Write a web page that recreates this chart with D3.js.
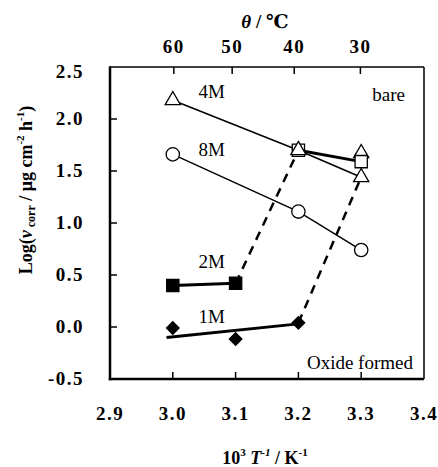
<!DOCTYPE html>
<html>
<head>
<meta charset="utf-8">
<script src="https://cdn.jsdelivr.net/npm/d3@7"></script>
<style>
  body { margin: 0; background: #fff; }
  svg text { font-family: "Liberation Serif", "Times New Roman", Times, "DejaVu Serif", serif; fill: #000; }
  .tick-label { font-weight: bold; font-size: 19px; letter-spacing: 1.5px; }
</style>
</head>
<body>
<div id="chart"></div>
<script>
// 轴刻度
const xTicks = [2.9, 3.0, 3.1, 3.2, 3.3, 3.4];
const yTicks = [-0.5, 0.0, 0.5, 1.0, 1.5, 2.0, 2.5];
const tempTicks = [60, 50, 40, 30];

// 数据
const m4Bare = [[3.0, 2.18], [3.2, 1.70], [3.3, 1.44]];
const m4Extra = [[3.3, 1.67]];
const m2Bare = [[3.2, 1.70], [3.3, 1.59]];
const m8Bare = [[3.0, 1.66], [3.2, 1.11], [3.3, 0.74]];
const m2Oxide = [[3.0, 0.40], [3.1, 0.42]];
const m1Oxide = [[3.0, -0.01], [3.1, -0.115], [3.2, 0.04]];
const m1Fit = [[2.99, -0.10], [3.2, 0.03]];
const dash2M = [[3.1, 0.42], [3.2, 1.70]];
const dash1M = [[3.2, 0.04], [3.3, 1.44]];

const width = 438, height = 467;
const margin = { left: 110, right: 14, top: 67, bottom: 88 };

const svg = d3.select("#chart").append("svg")
    .attr("width", width)
    .attr("height", height);

const x = d3.scaleLinear().domain([2.9, 3.4]).range([margin.left, width - margin.right]);
const y = d3.scaleLinear().domain([-0.5, 2.5]).range([height - margin.bottom, margin.top]);

const x0 = x.range()[0], x1 = x.range()[1];
const y0 = y.range()[0], y1 = y.range()[1];

// 坐标框
svg.append("line").attr("x1", x0).attr("x2", x1).attr("y1", y1).attr("y2", y1)
    .attr("stroke", "#000").attr("stroke-width", 1.5);
svg.append("line").attr("x1", x1).attr("x2", x1).attr("y1", y1).attr("y2", y0)
    .attr("stroke", "#000").attr("stroke-width", 1.5);
svg.append("line").attr("x1", x0).attr("x2", x0).attr("y1", y1 - 0.75).attr("y2", y0 + 1.25)
    .attr("stroke", "#000").attr("stroke-width", 2.5);
svg.append("line").attr("x1", x0 - 1.25).attr("x2", x1).attr("y1", y0).attr("y2", y0)
    .attr("stroke", "#000").attr("stroke-width", 2.5);

// 底部刻度
svg.append("g").selectAll("line")
    .data(xTicks.slice(1, -1))
    .join("line")
    .attr("x1", d => x(d)).attr("x2", d => x(d))
    .attr("y1", y0).attr("y2", y0 - 7)
    .attr("stroke", "#000").attr("stroke-width", 1.5);

svg.append("g").selectAll("text")
    .data(xTicks)
    .join("text")
    .attr("class", "tick-label")
    .attr("x", d => x(d))
    .attr("y", y0 + 41)
    .attr("text-anchor", "middle")
    .text(d => d.toFixed(1));

// 左侧刻度
svg.append("g").selectAll("line")
    .data(yTicks.slice(1, -1))
    .join("line")
    .attr("x1", x0).attr("x2", x0 + 7)
    .attr("y1", d => y(d)).attr("y2", d => y(d))
    .attr("stroke", "#000").attr("stroke-width", 1.5);

svg.append("g").selectAll("text")
    .data(yTicks)
    .join("text")
    .attr("class", "tick-label")
    .attr("x", x0 - 26)
    .attr("y", d => y(d) + 6 + (d === 2.5 ? 5 : 0))
    .attr("text-anchor", "end")
    .text(d => d.toFixed(1));

// 顶部温度刻度
const tx = t => x(1000 / (t + 273.15));
svg.append("g").selectAll("line")
    .data(tempTicks)
    .join("line")
    .attr("x1", d => tx(d)).attr("x2", d => tx(d))
    .attr("y1", y1).attr("y2", y1 + 7)
    .attr("stroke", "#000").attr("stroke-width", 1.5);

svg.append("g").selectAll("text")
    .data(tempTicks)
    .join("text")
    .attr("class", "tick-label")
    .attr("x", d => tx(d))
    .attr("y", 53)
    .attr("text-anchor", "middle")
    .text(d => d);

// 顶部标题 θ / ℃
const topTitle = svg.append("text")
    .attr("x", 265).attr("y", 28)
    .attr("text-anchor", "middle")
    .attr("font-weight", "bold").attr("font-size", 19);
topTitle.append("tspan").attr("font-style", "italic").text("θ");
topTitle.append("tspan").text(" / ℃");

// 横轴标题
const xTitle = svg.append("text")
    .attr("x", 265).attr("y", 464)
    .attr("text-anchor", "middle")
    .attr("font-weight", "bold").attr("font-size", 18);
xTitle.append("tspan").text("10");
xTitle.append("tspan").attr("font-size", 11).attr("dy", -8).text("3");
xTitle.append("tspan").attr("dy", 8).attr("font-style", "italic").text(" T");
xTitle.append("tspan").attr("font-size", 11).attr("dy", -8).attr("font-style", "italic").text("-1");
xTitle.append("tspan").attr("dy", 8).text(" / K");
xTitle.append("tspan").attr("font-size", 11).attr("dy", -8).text("-1");

// 纵轴标题
const yTitle = svg.append("text")
    .attr("transform", "translate(32,190) rotate(-90)")
    .attr("text-anchor", "middle")
    .attr("font-weight", "bold").attr("font-size", 18);
yTitle.append("tspan").text("Log(");
yTitle.append("tspan").attr("font-style", "italic").text("ν");
yTitle.append("tspan").attr("font-size", 12).attr("dy", 3).text(" corr");
yTitle.append("tspan").attr("dy", -3).text(" / μg cm");
yTitle.append("tspan").attr("font-size", 11).attr("dy", -8).text("-2");
yTitle.append("tspan").attr("dy", 8).text(" h");
yTitle.append("tspan").attr("font-size", 11).attr("dy", -8).text("-1");
yTitle.append("tspan").attr("dy", 8).text(")");

// 连线
const line = d3.line().x(d => x(d[0])).y(d => y(d[1]));
const lines = svg.append("g").attr("fill", "none").attr("stroke", "#000");
lines.append("path").attr("d", line(m4Bare)).attr("stroke-width", 1.5);
lines.append("path").attr("d", line(m8Bare)).attr("stroke-width", 1.5);
lines.append("path").attr("d", line(m2Bare)).attr("stroke-width", 3);
lines.append("path").attr("d", line(m2Oxide)).attr("stroke-width", 3);
lines.append("path").attr("d", line(m1Fit)).attr("stroke-width", 3);
lines.append("path").attr("d", line(dash2M)).attr("stroke-width", 2.5).attr("stroke-dasharray", "9,7");
lines.append("path").attr("d", line(dash1M)).attr("stroke-width", 2.5).attr("stroke-dasharray", "9,7");

// 标记点
function drawMarkers(data, type, size, fill) {
    svg.append("g").selectAll("path")
        .data(data)
        .join("path")
        .attr("transform", d => `translate(${x(d[0])},${y(d[1])})`)
        .attr("d", d3.symbol().type(type).size(size))
        .attr("fill", fill)
        .attr("stroke", "#000")
        .attr("stroke-width", 1.3);
}
drawMarkers(m4Extra, d3.symbolTriangle, 100, "#fff");
drawMarkers(m2Bare, d3.symbolSquare, 150, "#fff");
drawMarkers(m4Bare, d3.symbolTriangle, 100, "#fff");
drawMarkers(m8Bare, d3.symbolCircle, 140, "#fff");
drawMarkers(m2Oxide, d3.symbolSquare, 150, "#000");
drawMarkers(m1Oxide, d3.symbolDiamond2, 100, "#000");

// 标签
const labels = [
    { t: "4M", x: 3.041, y: 2.20 },
    { t: "8M", x: 3.041, y: 1.64 },
    { t: "2M", x: 3.041, y: 0.57 },
    { t: "1M", x: 3.041, y: 0.04 },
];
svg.append("g").selectAll("text")
    .data(labels)
    .join("text")
    .attr("x", d => x(d.x))
    .attr("y", d => y(d.y))
    .attr("font-size", 19)
    .text(d => d.t);

svg.append("text").attr("x", x1 - 19).attr("y", y(2.17)).attr("text-anchor", "end")
    .attr("font-size", 19).text("bare");
svg.append("text").attr("x", x1 - 11).attr("y", y0 - 10).attr("text-anchor", "end")
    .attr("font-size", 19).text("Oxide formed");
</script>
</body>
</html>
